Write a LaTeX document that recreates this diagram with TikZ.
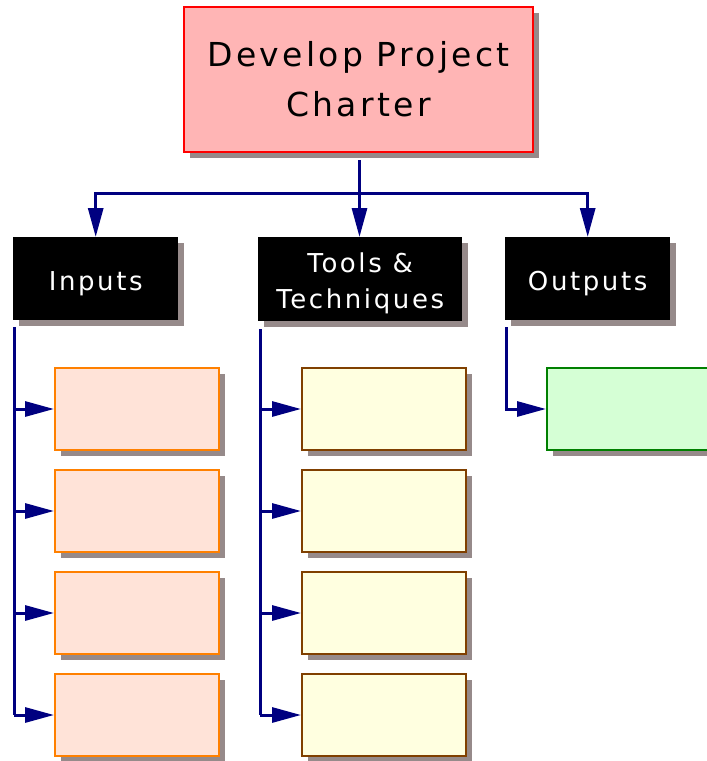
\documentclass[tikz,border=0pt]{standalone}
\usepackage{fontspec}
\setmainfont{DejaVu Sans}[LetterSpace=10]
\usetikzlibrary{arrows.meta,shadows,positioning}
\definecolor{shadowgray}{HTML}{968A8A}
\definecolor{navyline}{HTML}{000080}
\definecolor{topfill}{HTML}{FFB5B5}
\definecolor{infill}{HTML}{FFE3D8}
\definecolor{inborder}{HTML}{FF8000}
\definecolor{toolfill}{HTML}{FFFFE0}
\definecolor{toolborder}{HTML}{804000}
\definecolor{outfill}{HTML}{D5FFD5}
\definecolor{outborder}{HTML}{008000}
\tikzset{
  sh/.style={drop shadow={shadow xshift=6pt,shadow yshift=-6pt,fill=shadowgray,opacity=1}},
  topbox/.style={sh,draw=red,line width=2pt,fill=topfill,minimum width=349pt,minimum height=145pt,anchor=north west,inner sep=0pt,align=center,font=\fontsize{33}{50}\selectfont},
  headbox/.style={sh,fill=black,minimum width=165pt,minimum height=83pt,anchor=north west,inner sep=0pt},
  headtext/.style={text=white,inner sep=0pt,align=center,yshift=-5pt,font=\fontsize{26}{36}\selectfont},
  inbox/.style={sh,draw=inborder,line width=2pt,fill=infill,minimum width=164pt,minimum height=82pt,anchor=north west,inner sep=0pt},
  toolbox/.style={sh,draw=toolborder,line width=2pt,fill=toolfill,minimum width=164pt,minimum height=82pt,anchor=north west,inner sep=0pt},
  outbox/.style={sh,draw=outborder,line width=2pt,fill=outfill,minimum width=164pt,minimum height=82pt,anchor=north west,inner sep=0pt},
  conn/.style={draw=navyline,line width=3pt},
  arr/.style={conn,-{Triangle[length=29pt,width=15pt]}},
}
\begin{document}
\begin{tikzpicture}[x=1pt,y=-1pt]
\useasboundingbox (0,0) rectangle (707,761);
\node[topbox] (top) at (183,6) {Develop Project\\Charter};
\node[headbox,label={[headtext]center:Inputs}] (inputs) at (13,237) {};
\node[headbox,minimum width=204pt,minimum height=84pt,label={[headtext,yshift=1pt]center:Tools \&\\Techniques}] (tools) at (258,237) {};
\node[headbox,label={[headtext]center:Outputs}] (outputs) at (505,237) {};
\node[inbox] (i1) at (54,367) {};
\node[inbox] (i2) at (54,469) {};
\node[inbox] (i3) at (54,571) {};
\node[inbox] (i4) at (54,673) {};
\node[toolbox] (t1) at (301,367) {};
\node[toolbox] (t2) at (301,469) {};
\node[toolbox] (t3) at (301,571) {};
\node[toolbox] (t4) at (301,673) {};
\node[outbox] (o1) at (546,367) {};
\coordinate (j) at (359.5,193.5);
\coordinate (ts) at ([yshift=-7pt]j |- top.south);
\draw[conn] (ts) -- (j);
\draw[arr] (j) -| (inputs.north);
\draw[arr] (j) -- (j |- tools.north);
\draw[arr] (j) -| (outputs.north);
\coordinate (it) at ([xshift=1pt,yshift=-7pt]inputs.south west);
\coordinate (tt) at ([xshift=2pt,yshift=-8pt]tools.south west);
\coordinate (ot) at ([xshift=1pt,yshift=-7pt]outputs.south west);
\draw[conn] (it) -- (it |- i4.west);
\draw[conn] (tt) -- (tt |- t4.west);
\foreach \b in {i1,i2,i3,i4}{\draw[arr] (it |- \b.west) -- (\b.west);}
\foreach \b in {t1,t2,t3,t4}{\draw[arr] (tt |- \b.west) -- (\b.west);}
\draw[arr] (ot) |- (o1.west);
\end{tikzpicture}
\end{document}
